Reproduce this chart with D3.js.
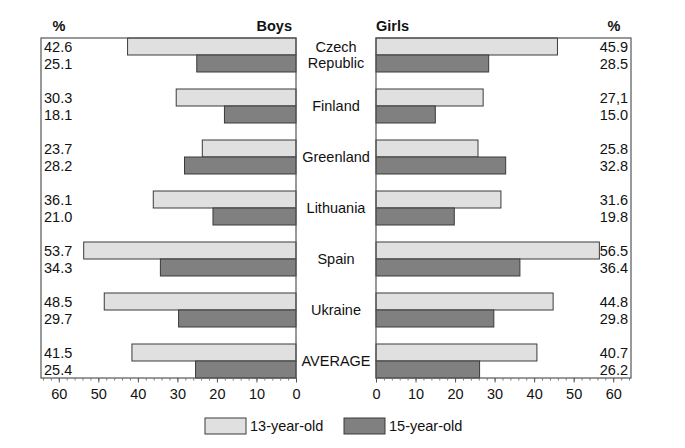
<!DOCTYPE html>
<html>
<head>
<meta charset="utf-8">
<script src="https://cdn.jsdelivr.net/npm/d3@7"></script>
<style>
  body { margin: 0; background: #fff; }
  text { font-family: "Liberation Sans", Arial, sans-serif; fill: #111; }
</style>
</head>
<body>
<svg width="685" height="448"></svg>
<script>
var countries = ["Czech\nRepublic", "Finland", "Greenland", "Lithuania", "Spain", "Ukraine", "AVERAGE"];
var boys13 = [42.6, 30.3, 23.7, 36.1, 53.7, 48.5, 41.5];
var boys15 = [25.1, 18.1, 28.2, 21.0, 34.3, 29.7, 25.4];
var girls13 = [45.9, 27.1, 25.8, 31.6, 56.5, 44.8, 40.7];
var girls15 = [28.5, 15.0, 32.8, 19.8, 36.4, 29.8, 26.2];
// the source prints Finland girls 13 with a comma
var girls13Labels = ["45.9", "27,1", "25.8", "31.6", "56.5", "44.8", "40.7"];
var ticks = [0, 10, 20, 30, 40, 50, 60];
var seriesNames = ["13-year-old", "15-year-old"];

var light = "#e0e0e0", dark = "#808080", edge = "#3a3a3a";
var top_y = 38, bottom_y = 378;

var svg = d3.select("svg");

var yScale = d3.scaleBand()
  .domain(countries)
  .range([top_y, bottom_y])
  .paddingInner(1 / 3)
  .paddingOuter(0);
var half = yScale.bandwidth() / 2;

var boysScale = d3.scaleLinear().domain([0, 64.5]).range([296, 41]);
var girlsScale = d3.scaleLinear().domain([0, 64.5]).range([376, 631]);

function panel(scale, v13, v15, labels13, labelX, anchor) {
  var g = svg.append("g");
  var x0 = scale(0);

  function bars(vals, off, fill) {
    g.selectAll(null)
      .data(vals)
      .enter().append("rect")
      .attr("x", d => Math.min(x0, scale(d)))
      .attr("width", d => Math.abs(scale(d) - x0))
      .attr("y", (d, i) => yScale(countries[i]) + off)
      .attr("height", half)
      .attr("fill", fill)
      .attr("stroke", edge)
      .attr("stroke-width", 1);
  }
  bars(v13, 0, light);
  bars(v15, half, dark);

  // frame
  var xs = scale.range();
  g.append("rect")
    .attr("x", Math.min(xs[0], xs[1]))
    .attr("y", top_y)
    .attr("width", Math.abs(xs[1] - xs[0]))
    .attr("height", bottom_y - top_y)
    .attr("fill", "none")
    .attr("stroke", "#555")
    .attr("stroke-width", 1.2);

  g.selectAll(null).data(labels13).enter().append("text")
    .attr("x", labelX)
    .attr("y", (d, i) => yScale(countries[i]) + half / 2 + 5)
    .attr("text-anchor", anchor)
    .style("font-size", "14.5px")
    .text(d => d);
  g.selectAll(null).data(v15).enter().append("text")
    .attr("x", labelX)
    .attr("y", (d, i) => yScale(countries[i]) + half * 1.5 + 5)
    .attr("text-anchor", anchor)
    .style("font-size", "14.5px")
    .text(d => d.toFixed(1));

  // minor ticks
  var minor = d3.range(0, 65, 2);
  g.append("g")
    .attr("transform", `translate(0, ${bottom_y})`)
    .call(d3.axisBottom(scale).tickValues(minor).tickSize(2.5).tickFormat(""))
    .call(a => a.select(".domain").remove())
    .selectAll("line").attr("stroke", "#777");

  var axis = g.append("g")
    .attr("transform", `translate(0, ${bottom_y})`)
    .call(d3.axisBottom(scale).tickValues(ticks).tickSize(4.5).tickPadding(6));
  axis.select(".domain").remove();
  axis.selectAll("line").attr("stroke", "#555");
  axis.selectAll("text")
    .style("font-size", "14.5px")
    .style("font-family", "Liberation Sans, Arial, sans-serif")
    .attr("fill", "#111");
}

panel(boysScale, boys13, boys15, boys13.map(d => d.toFixed(1)), 44, "start");
panel(girlsScale, girls13, girls15, girls13Labels, 628, "end");

// country names
var names = svg.append("g");
countries.forEach(function (c) {
  var lines = c.split("\n");
  var cy = yScale(c) + half;
  lines.forEach(function (ln, j) {
    names.append("text")
      .attr("x", 336)
      .attr("y", cy + (j - (lines.length - 1) / 2) * 16.6 + 5)
      .attr("text-anchor", "middle")
      .style("font-size", "14.5px")
      .text(ln);
  });
});

// headers
svg.append("text").attr("x", 59).attr("y", 31).attr("text-anchor", "middle")
  .style("font-size", "14.5px").style("font-weight", "bold").text("%");
svg.append("text").attr("x", 292).attr("y", 31).attr("text-anchor", "end")
  .style("font-size", "14.5px").style("font-weight", "bold").text("Boys");
svg.append("text").attr("x", 376).attr("y", 31).attr("text-anchor", "start")
  .style("font-size", "14.5px").style("font-weight", "bold").text("Girls");
svg.append("text").attr("x", 614).attr("y", 31).attr("text-anchor", "middle")
  .style("font-size", "14.5px").style("font-weight", "bold").text("%");

// legend
var legendX = [205, 344];
var leg = svg.append("g");
seriesNames.forEach(function (s, i) {
  leg.append("rect")
    .attr("x", legendX[i]).attr("y", 418)
    .attr("width", 41).attr("height", 16)
    .attr("fill", i === 0 ? light : dark)
    .attr("stroke", edge).attr("stroke-width", 1);
  leg.append("text")
    .attr("x", legendX[i] + 45).attr("y", 431)
    .style("font-size", "14.5px")
    .text(s);
});
</script>
</body>
</html>
